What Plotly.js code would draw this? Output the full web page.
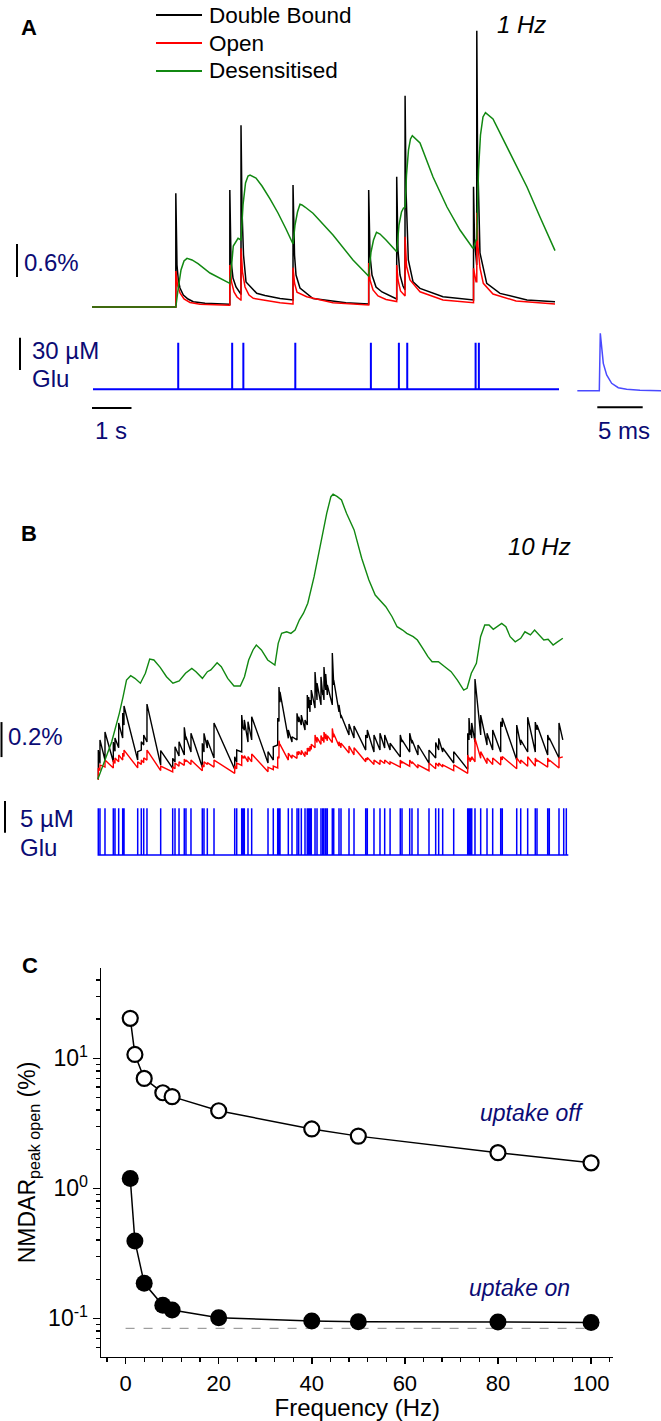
<!DOCTYPE html>
<html>
<head>
<meta charset="utf-8">
<script src="https://cdn.plot.ly/plotly-3.0.1.min.js"></script>
<style>html,body{margin:0;padding:0;background:#fff;}#chart{width:661px;height:1421px;}</style>
</head>
<body>
<div id="chart"></div>
<script>
// ---------------- Panel A (1 Hz) : time in s, state occupancy in % ----------------
const aBlackT = [0, 1.842, 1.842, 1.868, 1.897, 1.934, 2.007, 2.110, 2.226, 2.484, 3.022,
 3.029, 3.029, 3.055, 3.099, 3.165, 3.270,
 3.275, 3.275, 3.297, 3.330, 3.385, 3.620, 3.802, 4.132, 4.413,
 4.418, 4.418, 4.451, 4.484, 4.571, 4.857, 5.580, 6.077,
 6.081, 6.081, 6.110, 6.154, 6.242, 6.374, 6.692,
 6.697, 6.697, 6.725, 6.769, 6.835, 6.879,
 6.881, 6.881, 6.901, 6.952, 7.055, 7.209, 7.714, 8.308, 8.380,
 8.385, 8.385, 8.407, 8.455,
 8.457, 8.457, 8.473, 8.505, 8.527, 8.675, 8.967, 9.560, 10.176];
const aBlackV = [0, 0, 2.067, 0.764, 0.491, 0.345, 0.218, 0.145, 0.096, 0.067, 0.049,
 0.049, 2.127, 0.855, 0.527, 0.364, 0.236,
 0.236, 3.304, 1.764, 0.945, 0.455, 0.249, 0.209, 0.155, 0.127,
 0.127, 2.218, 0.945, 0.582, 0.345, 0.155, 0.078, 0.055,
 0.055, 2.127, 0.945, 0.582, 0.364, 0.273, 0.145,
 0.145, 2.369, 1.036, 0.582, 0.382, 0.309,
 0.309, 3.842, 2.127, 0.855, 0.46, 0.339, 0.187, 0.127, 0.127,
 0.127, 2.187, 1.218, 0.764,
 0.764, 5.024, 2.855, 1.4, 0.982, 0.43, 0.248, 0.127, 0.096];
const aRedT = [0, 1.842, 1.842, 1.879, 1.934, 2.022, 2.154, 2.374, 3.022,
 3.029, 3.029, 3.066, 3.121, 3.187, 3.270,
 3.275, 3.275, 3.308, 3.363, 3.451, 3.545, 4.132, 4.413,
 4.418, 4.418, 4.451, 4.505, 4.719, 5.297, 6.077,
 6.081, 6.081, 6.110, 6.176, 6.286, 6.462, 6.692,
 6.697, 6.697, 6.725, 6.780, 6.846, 6.879,
 6.881, 6.881, 6.912, 6.989, 7.209, 7.714, 8.380,
 8.385, 8.385, 8.440,
 8.457, 8.457, 8.484, 8.527, 8.600, 8.813, 9.320, 10.176];
const aRedV = [0, 0, 0.655, 0.4, 0.255, 0.145, 0.082, 0.049, 0.031,
 0.031, 0.764, 0.455, 0.273, 0.182, 0.127,
 0.127, 1.067, 0.636, 0.364, 0.218, 0.158, 0.078, 0.055,
 0.055, 0.715, 0.436, 0.27, 0.187, 0.078, 0.036,
 0.036, 0.8, 0.491, 0.309, 0.2, 0.136, 0.1,
 0.1, 0.764, 0.491, 0.291, 0.218, 0.2,
 0.2, 1.278, 0.745, 0.491, 0.277, 0.127, 0.078,
 0.078, 0.703, 0.46,
 0.46, 1.715, 1.1, 0.709, 0.431, 0.236, 0.109, 0.055];
const aGreenT = [0, 1.842, 1.890, 1.956, 2.022, 2.088, 2.198, 2.330, 2.593, 2.813, 3.022,
 3.029, 3.055, 3.105, 3.210, 3.270,
 3.275, 3.319, 3.374, 3.429, 3.473, 3.604, 3.736, 3.912, 4.088, 4.264, 4.413,
 4.418, 4.462, 4.516, 4.571, 4.615, 4.681, 4.857, 5.297, 5.736, 6.077,
 6.081, 6.132, 6.187, 6.253, 6.330, 6.462, 6.593, 6.692,
 6.697, 6.747, 6.802, 6.846, 6.879,
 6.881, 6.912, 6.956, 7.000, 7.040, 7.209, 7.495, 7.802, 8.088, 8.367,
 8.385, 8.440, 8.457, 8.495, 8.538, 8.593, 8.648, 8.813, 9.187, 9.560, 9.846, 10.176];
const aGreenV = [0, 0, 0.309, 0.673, 0.836, 0.885, 0.855, 0.79, 0.618, 0.518, 0.43,
 0.43, 0.636, 1.109, 1.248, 1.218,
 1.218, 1.855, 2.255, 2.382, 2.4, 2.345, 2.2, 1.964, 1.709, 1.418, 1.145,
 1.145, 1.491, 1.727, 1.867, 1.855, 1.818, 1.704, 1.309, 0.855, 0.564,
 0.564, 1.0, 1.218, 1.358, 1.327, 1.218, 1.1, 1.005,
 1.005, 1.491, 1.727, 1.8, 1.809,
 1.809, 2.4, 2.855, 3.055, 3.115, 2.982, 2.364, 1.818, 1.4, 1.073,
 1.073, 1.218, 1.22, 2.491, 3.127, 3.455, 3.533, 3.418, 2.8, 2.182, 1.636, 1.024];
// glutamate pulses, panel A (s) and amplitude (µM)
const aPulseT = [1.842, 3.029, 3.275, 4.418, 6.081, 6.697, 6.881, 8.385, 8.457];
const aPulseAmp = 43.3;
const aGluSpan = [-0.033, 10.22];
// single glutamate transient inset (ms, µM)
const insetT = [-2.42, 0, 0.11, 0.26, 0.44, 0.81, 1.36, 2.09, 3.01, 4.48, 6.8];
const insetC = [0, 0, 53.3, 37.8, 25.4, 14.6, 6.9, 2.8, 1.3, 0.4, 0];

// ---------------- Panel B (10 Hz) ----------------
const bGreenT = [0, 0.121, 0.213, 0.306, 0.398, 0.473, 0.556, 0.631, 0.723, 0.815,
 0.936, 1.046, 1.141, 1.233, 1.371, 1.510, 1.651, 1.789, 1.927, 2.066,
 2.158, 2.299, 2.409, 2.484, 2.622, 2.714, 2.855, 2.993, 3.132, 3.224,
 3.316, 3.411, 3.484, 3.596, 3.734, 3.892, 3.965, 4.040, 4.152, 4.244,
 4.336, 4.429, 4.521, 4.615, 4.754, 4.892, 5.031, 5.123, 5.171, 5.264,
 5.356, 5.466, 5.633, 5.800, 5.958, 6.097, 6.235, 6.330, 6.468, 6.578,
 6.699, 6.791, 6.932, 7.024, 7.163, 7.255, 7.347, 7.486, 7.626, 7.765,
 7.903, 8.042, 8.116, 8.209, 8.321, 8.413, 8.505, 8.598, 8.692, 8.785,
 8.877, 8.969, 9.062, 9.174, 9.295, 9.387, 9.508, 9.600, 9.710, 9.802,
 9.897, 10.007, 10.081, 10.220];
const bGreenV = [0, 0.091, 0.149, 0.215, 0.301, 0.377, 0.472, 0.567, 0.592, 0.577,
 0.549, 0.606, 0.687, 0.682, 0.640, 0.586, 0.549, 0.562, 0.606, 0.634,
 0.615, 0.577, 0.615, 0.625, 0.666, 0.643, 0.577, 0.533, 0.533, 0.586,
 0.682, 0.739, 0.767, 0.739, 0.682, 0.653, 0.777, 0.834, 0.843, 0.834,
 0.853, 0.910, 0.949, 1.006, 1.158, 1.349, 1.520, 1.615, 1.629, 1.615,
 1.596, 1.520, 1.425, 1.263, 1.139, 1.053, 1.015, 0.986, 0.929, 0.872,
 0.853, 0.834, 0.815, 0.796, 0.739, 0.701, 0.672, 0.672, 0.643, 0.615,
 0.567, 0.510, 0.520, 0.606, 0.663, 0.815, 0.882, 0.882, 0.857, 0.872,
 0.891, 0.872, 0.815, 0.786, 0.806, 0.843, 0.825, 0.853, 0.825, 0.796,
 0.800, 0.767, 0.781, 0.806];
const bPulseT = [0.011, 0.048, 0.158, 0.341, 0.378, 0.459, 0.547, 0.576, 0.877, 0.956,
 1.009, 1.081, 1.382, 1.646, 1.697, 1.785, 1.901, 1.938, 2.048, 2.297,
 2.334, 2.407, 2.554, 3.009, 3.053, 3.163, 3.191, 3.220, 3.301, 3.382,
 3.741, 3.857, 3.954, 3.982, 4.004, 4.187, 4.268, 4.378, 4.415, 4.473,
 4.554, 4.604, 4.635, 4.664, 4.692, 4.774, 4.818, 4.905, 4.943, 4.971,
 5.009, 5.044, 5.154, 5.185, 5.301, 5.345, 5.521, 5.631, 5.888, 5.923,
 6.070, 6.202, 6.305, 6.424, 6.648, 6.686, 6.855, 6.905, 7.037, 7.279,
 7.426, 7.492, 7.580, 7.822, 8.130, 8.158, 8.187, 8.218, 8.290, 8.415,
 8.554, 8.679, 8.855, 8.890, 9.207, 9.295, 9.448, 9.615, 9.653, 9.888,
 9.923, 10.136, 10.240, 10.297];
const bPulseAmp = 7.37;
const bGluSpan = [0, 10.341];
const bBlackLow = [0.0, 0.09, 0.11, 0.10, 0.16, 0.18, 0.236, 0.31, 0.11, 0.167,
 0.196, 0.213, 0.082, 0.063, 0.099, 0.133, 0.139, 0.225, 0.156, 0.069,
 0.156, 0.179, 0.122, 0.057, 0.099, 0.156, 0.29, 0.28, 0.213, 0.225,
 0.093, 0.110, 0.196, 0.33, 0.44, 0.234, 0.213, 0.225, 0.327, 0.310,
 0.282, 0.310, 0.407, 0.385, 0.425, 0.407, 0.453, 0.425, 0.482, 0.453,
 0.510, 0.482, 0.425, 0.539, 0.385, 0.350, 0.253, 0.236, 0.167, 0.236,
 0.156, 0.167, 0.179, 0.167, 0.128, 0.213, 0.156, 0.206, 0.139, 0.093,
 0.122, 0.167, 0.156, 0.093, 0.057, 0.225, 0.253, 0.236, 0.213, 0.253,
 0.196, 0.167, 0.156, 0.30, 0.110, 0.196, 0.156, 0.156, 0.282, 0.139,
 0.225, 0.122];
const bBlackPeak = [0.167, 0.225, 0.27, 0.213, 0.236, 0.322, 0.379, 0.419, 0.158, 0.215,
 0.253, 0.430, 0.164, 0.120, 0.186, 0.215, 0.297, 0.243, 0.263, 0.206,
 0.263, 0.225, 0.322, 0.129, 0.167, 0.367, 0.30, 0.339, 0.329, 0.358,
 0.158, 0.186, 0.350, 0.527, 0.50, 0.282, 0.243, 0.377, 0.358, 0.367,
 0.339, 0.482, 0.470, 0.453, 0.510, 0.613, 0.550, 0.585, 0.510, 0.642,
 0.602, 0.539, 0.722, 0.567, 0.425, 0.367, 0.316, 0.305, 0.253, 0.282,
 0.253, 0.263, 0.253, 0.206, 0.253, 0.225, 0.263, 0.225, 0.196, 0.167,
 0.210, 0.234, 0.179, 0.158, 0.263, 0.350, 0.282, 0.322, 0.573, 0.367,
 0.263, 0.282, 0.329, 0.350, 0.310, 0.225, 0.355, 0.327, 0.310, 0.253,
 0.236, 0.322];
const bRedLow = [0.0, 0.05, 0.07, 0.065, 0.09, 0.10, 0.11, 0.13, 0.065, 0.085,
 0.095, 0.11, 0.05, 0.043, 0.06, 0.075, 0.08, 0.10, 0.085, 0.049,
 0.07, 0.085, 0.07, 0.034, 0.06, 0.08, 0.12, 0.12, 0.10, 0.10,
 0.043, 0.055, 0.065, 0.12, 0.19, 0.11, 0.12, 0.12, 0.14, 0.14,
 0.13, 0.14, 0.16, 0.16, 0.17, 0.18, 0.21, 0.20, 0.22, 0.21,
 0.23, 0.22, 0.21, 0.24, 0.19, 0.18, 0.15, 0.14, 0.10, 0.11,
 0.085, 0.085, 0.09, 0.085, 0.07, 0.09, 0.075, 0.09, 0.065, 0.049,
 0.06, 0.075, 0.07, 0.05, 0.034, 0.11, 0.10, 0.11, 0.10, 0.12,
 0.09, 0.085, 0.082, 0.11, 0.06, 0.09, 0.075, 0.075, 0.10, 0.07,
 0.10, 0.065];
const bRedPeak = [0.065, 0.082, 0.110, 0.110, 0.122, 0.139, 0.150, 0.167, 0.10, 0.11,
 0.122, 0.167, 0.076, 0.072, 0.093, 0.10, 0.116, 0.11, 0.11, 0.082,
 0.10, 0.095, 0.11, 0.076, 0.093, 0.139, 0.13, 0.135, 0.13, 0.145,
 0.069, 0.076, 0.129, 0.221, 0.20, 0.149, 0.139, 0.158, 0.16, 0.165,
 0.158, 0.179, 0.18, 0.19, 0.20, 0.253, 0.24, 0.25, 0.24, 0.27,
 0.26, 0.25, 0.291, 0.26, 0.215, 0.207, 0.19, 0.18, 0.12, 0.125,
 0.11, 0.11, 0.11, 0.10, 0.11, 0.10, 0.11, 0.10, 0.082, 0.093,
 0.093, 0.093, 0.082, 0.082, 0.139, 0.125, 0.122, 0.129, 0.234, 0.158,
 0.122, 0.122, 0.129, 0.13, 0.122, 0.11, 0.129, 0.122, 0.11, 0.122,
 0.11, 0.122];
const bTraceEnd = [10.22, 0.225, 0.128]; // time, black, red at end of trace

// ---------------- Panel C ----------------
const freqHz = [1, 2, 4, 8, 10, 20, 40, 50, 80, 100];
const uptakeOff = [20.3, 10.7, 7.0, 5.43, 5.07, 3.95, 2.86, 2.52, 1.88, 1.57];
const uptakeOn = [1.19, 0.393, 0.186, 0.126, 0.116, 0.101, 0.0953, 0.0942, 0.0937, 0.093];
const floorLevel = 0.0838;
const floorSpan = [0, 100.7];
const yTickVals = [0.1, 1, 10];
const yTickText = ['10<sup>-1</sup>', '10<sup>0</sup>', '10<sup>1</sup>'];

// scale bars
const scaleA = 0.6, scaleAGlu = 30, scaleTime = 1, scaleInset = 5, scaleB = 0.2, scaleBGlu = 5;

// ---------------- helpers ----------------
const W = 661, H = 1421;
const px = x => x / W;
const py = y => 1 - y / H;
function pulses(times, amp, span) {
  const x = [span[0]], y = [0];
  times.forEach(t => { x.push(t, t, t); y.push(0, amp, 0); });
  x.push(span[1]); y.push(0);
  return {x, y};
}
function spikes(times, low, peak, end) {
  const x = [0], y = [0];
  for (let i = 0; i < low.length; i++) { x.push(times[i], times[i]); y.push(low[i], peak[i]); }
  x.push(end[0]); y.push(end[1]);
  return {x, y};
}
const FONT = 'Arial, "Liberation Sans", sans-serif';
const NAVY = '#0b0b74';
const GREEN = '#118811';

const gA = pulses(aPulseT, aPulseAmp, aGluSpan);
const gB = pulses(bPulseT, bPulseAmp, bGluSpan);
const bBlack = spikes(bPulseT, bBlackLow, bBlackPeak, [bTraceEnd[0], bTraceEnd[1]]);
const bRed = spikes(bPulseT, bRedLow, bRedPeak, [bTraceEnd[0], bTraceEnd[2]]);

const traces = [
  {x: aBlackT, y: aBlackV, name: 'Double Bound', xaxis: 'x', yaxis: 'y', mode: 'lines', line: {color: '#000', width: 1.5}},
  {x: aRedT, y: aRedV, name: 'Open', xaxis: 'x', yaxis: 'y', mode: 'lines', line: {color: '#ff0000', width: 1.5}},
  {x: aGreenT, y: aGreenV, name: 'Desensitised', xaxis: 'x', yaxis: 'y', mode: 'lines', line: {color: GREEN, width: 1.5}},
  {x: gA.x, y: gA.y, name: 'Glu', xaxis: 'x2', yaxis: 'y2', mode: 'lines', line: {color: '#0000ff', width: 2}},
  {x: insetT, y: insetC, name: 'Glu transient', xaxis: 'x3', yaxis: 'y3', mode: 'lines', line: {color: '#4a4aff', width: 1.5}},
  {x: bBlack.x, y: bBlack.y, name: 'Double Bound', xaxis: 'x4', yaxis: 'y4', mode: 'lines', line: {color: '#000', width: 1.4}},
  {x: bRed.x, y: bRed.y, name: 'Open', xaxis: 'x4', yaxis: 'y4', mode: 'lines', line: {color: '#ff0000', width: 1.4}},
  {x: bGreenT, y: bGreenV, name: 'Desensitised', xaxis: 'x4', yaxis: 'y4', mode: 'lines', line: {color: GREEN, width: 1.4}},
  {x: gB.x, y: gB.y, name: 'Glu', xaxis: 'x4', yaxis: 'y5', mode: 'lines', line: {color: '#0000ff', width: 1.5}},
  {x: floorSpan, y: [floorLevel, floorLevel], xaxis: 'x6', yaxis: 'y6', mode: 'lines', line: {color: '#888', width: 1, dash: 'dash'}, name: 'floor'},
  {x: freqHz, y: uptakeOff, name: 'uptake off', xaxis: 'x6', yaxis: 'y6', mode: 'lines+markers', line: {color: '#000', width: 1.5},
   marker: {symbol: 'circle', size: 15, color: '#fff', line: {color: '#000', width: 2.2}}},
  {x: freqHz, y: uptakeOn, name: 'uptake on', xaxis: 'x6', yaxis: 'y6', mode: 'lines+markers', line: {color: '#000', width: 1.5},
   marker: {symbol: 'circle', size: 17, color: '#000'}}
];

const hid = (dom, rng, anchor) => ({domain: dom, range: rng, visible: false, fixedrange: true, anchor: anchor});

const layout = {
  width: W, height: H,
  margin: {l: 0, r: 0, t: 0, b: 0},
  paper_bgcolor: '#fff', plot_bgcolor: 'rgba(0,0,0,0)',
  showlegend: false,
  font: {family: FONT, color: '#000'},
  xaxis: hid([px(92), px(560)], [0, 10.2857], 'y'),
  yaxis: hid([py(320), py(20)], [-0.2364, 5.2182], 'x'),
  xaxis2: hid([px(92), px(564)], [-0.0549, 10.330], 'y2'),
  yaxis2: hid([py(400), py(330)], [-9.938, 55.077], 'x2'),
  xaxis3: hid([px(577), 1], [-2.456, 6.795], 'y3'),
  yaxis3: hid([py(400), py(320)], [-8.638, 65.664], 'x3'),
  xaxis4: hid([px(95), px(572)], [-0.0615, 10.422], 'y4'),
  yaxis4: hid([py(790), py(480)], [-0.0611, 1.7103], 'x4'),
  yaxis5: hid([py(860), py(800)], [-0.789, 8.675], 'x4'),
  xaxis6: {domain: [px(101.2), px(613.4)], range: [-5.24, 104.8], anchor: 'y6', fixedrange: true,
    showline: true, linecolor: '#000', linewidth: 1.6, showgrid: false, zeroline: false,
    ticks: 'outside', ticklen: 6, tickwidth: 1.5, tickcolor: '#000', dtick: 20, tick0: 0,
    tickfont: {size: 22, family: FONT, color: '#000'},
    minor: {ticks: 'outside', ticklen: 4, tickwidth: 1.3, tickcolor: '#000', dtick: 4},
    title: {text: 'Frequency (Hz)', font: {size: 24, family: FONT, color: '#000'}, standoff: 0}},
  yaxis6: {domain: [py(1356.7), py(968.3)], type: 'log', range: [-1.295, 1.692], anchor: 'x6', fixedrange: true,
    showline: true, linecolor: '#000', linewidth: 1.6, showgrid: false, zeroline: false,
    ticks: 'outside', ticklen: 7, tickwidth: 1.5, tickcolor: '#000',
    tickmode: 'array', tickvals: yTickVals, ticktext: yTickText,
    tickfont: {size: 23, family: FONT, color: '#000'},
    minor: {ticks: 'outside', ticklen: 4, tickwidth: 1.3, tickcolor: '#000', dtick: 'D1'},
    title: {text: 'NMDAR<sub>peak open</sub> (%)', font: {size: 23, family: FONT, color: '#000'}, standoff: 6}},
  shapes: [
    // legend swatches
    {type: 'line', xref: 'paper', yref: 'paper', x0: px(156), x1: px(202), y0: py(15), y1: py(15), line: {color: '#000', width: 2}},
    {type: 'line', xref: 'paper', yref: 'paper', x0: px(156), x1: px(202), y0: py(43), y1: py(43), line: {color: '#ff0000', width: 2}},
    {type: 'line', xref: 'paper', yref: 'paper', x0: px(156), x1: px(202), y0: py(71), y1: py(71), line: {color: GREEN, width: 2}},
    // scale bars
    {type: 'line', xref: 'paper', yref: 'y', x0: px(17), x1: px(17), y0: 0.545, y1: 0.545 + scaleA, line: {color: '#000', width: 2}},
    {type: 'line', xref: 'paper', yref: 'y2', x0: px(20), x1: px(20), y0: 17.9, y1: 17.9 + scaleAGlu, line: {color: '#000', width: 2}},
    {type: 'line', xref: 'x', yref: 'paper', x0: -0.132, x1: -0.132 + scaleTime, y0: py(408), y1: py(408), line: {color: '#000', width: 2}},
    {type: 'line', xref: 'x3', yref: 'paper', x0: -0.22, x1: -0.22 + scaleInset, y0: py(407.3), y1: py(407.3), line: {color: '#000', width: 2}},
    {type: 'line', xref: 'paper', yref: 'y4', x0: px(1.5), x1: px(1.5), y0: 0.127, y1: 0.127 + scaleB, line: {color: '#000', width: 2}},
    {type: 'line', xref: 'paper', yref: 'y5', x0: px(5), x1: px(5), y0: 3.52, y1: 3.52 + scaleBGlu, line: {color: '#000', width: 2}}
  ],
  annotations: []
};

function ann(text, x, y, size, color, extra) {
  layout.annotations.push(Object.assign({text: text, xref: 'paper', yref: 'paper', x: px(x), y: py(y),
    xanchor: 'left', yanchor: 'middle', showarrow: false, borderpad: 0,
    font: {size: size, color: color, family: FONT}}, extra || {}));
}
ann('<b>A</b>', 20, 28, 22, '#000');
ann('Double Bound', 208, 15, 22.5, '#000');
ann('Open', 208, 43, 22.5, '#000');
ann('Desensitised', 208, 71, 22.5, '#000');
ann('<i>1 Hz</i>', 496, 25, 24, '#000');
ann('0.6%', 23, 262, 24, NAVY);
ann('30 µM', 31, 350, 24, NAVY);
ann('Glu', 31, 378, 24, NAVY);
ann('1 s', 94, 430, 24, NAVY);
ann('5 ms', 597, 430, 24, NAVY);
ann('<b>B</b>', 20, 533, 22, '#000');
ann('<i>10 Hz</i>', 507, 546, 24, '#000');
ann('0.2%', 7, 736, 24, NAVY);
ann('5 µM', 19, 818, 24, NAVY);
ann('Glu', 19, 847, 24, NAVY);
ann('<b>C</b>', 21, 965, 22, '#000');
ann('<i>uptake off</i>', 479, 1113, 23, NAVY);
ann('<i>uptake on</i>', 468, 1288, 23, NAVY);

Plotly.newPlot('chart', traces, layout, {staticPlot: true, displayModeBar: false});
</script>
</body>
</html>
